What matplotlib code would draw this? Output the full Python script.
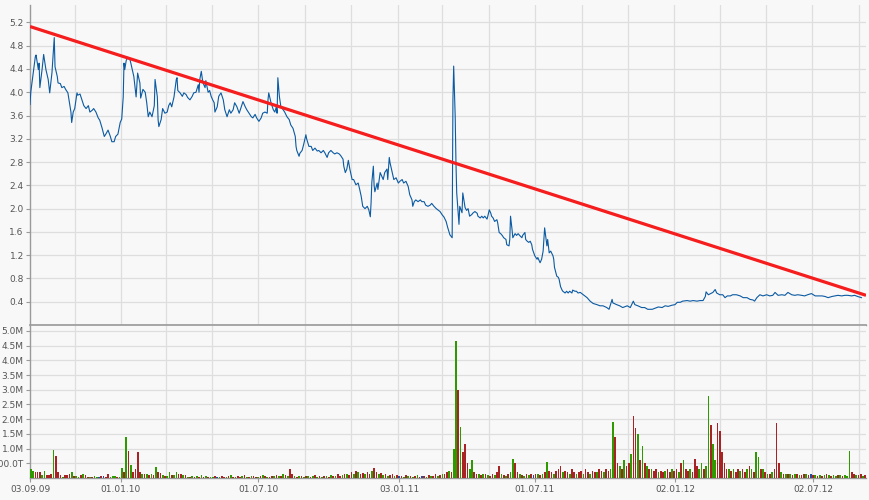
import matplotlib
matplotlib.use("Agg")
import matplotlib.pyplot as plt
import matplotlib.dates as mdates
import matplotlib.ticker as mticker
import numpy as np
import pandas as pd

START = pd.Timestamp("2009-09-03")
END = pd.Timestamp("2012-09-10")

# ---- price series: day offsets from START and closing values ----
price_day = [
    0, 1, 4, 7, 8, 11, 12, 13, 16, 18, 21, 24, 26, 29, 32, 33, 36, 37, 40, 42,
    45, 47, 50, 53, 54, 55, 57, 59, 62, 63, 66, 69, 71, 74, 77, 79, 82, 84, 87, 90,
    92, 95, 98, 100, 103, 106, 108, 111, 113, 116, 119, 121, 123, 124, 125, 127, 129, 132, 135, 137,
    140, 142, 145, 146, 149, 152, 154, 156, 158, 161, 164, 165, 168, 169, 170, 173, 175, 178, 181, 183,
    185, 187, 190, 193, 194, 195, 198, 201, 203, 206, 208, 211, 214, 216, 219, 222, 223, 224, 226, 228,
    231, 232, 235, 237, 239, 241, 243, 244, 247, 249, 252, 255, 257, 260, 263, 265, 268, 270, 273, 276,
    278, 281, 284, 286, 289, 292, 294, 297, 299, 302, 305, 307, 310, 313, 314, 315, 318, 321, 323, 325,
    326, 327, 329, 331, 334, 336, 339, 342, 344, 347, 350, 351, 352, 355, 356, 359, 361, 364, 365, 368,
    371, 373, 376, 379, 381, 384, 387, 389, 392, 394, 397, 400, 402, 405, 408, 410, 413, 414, 416, 418,
    420, 422, 425, 427, 430, 433, 435, 437, 439, 442, 445, 447, 449, 450, 451, 453, 454, 455, 458, 459,
    462, 464, 466, 468, 471, 472, 474, 475, 478, 480, 483, 486, 488, 491, 493, 496, 499, 501, 504, 505,
    507, 509, 512, 515, 517, 520, 522, 525, 528, 530, 533, 536, 538, 541, 544, 546, 549, 551, 554, 557,
    558, 559, 561, 562, 563, 566, 567, 570, 571, 574, 576, 578, 580, 583, 584, 587, 590, 591, 594, 596,
    598, 600, 603, 604, 606, 608, 609, 611, 613, 616, 617, 619, 621, 623, 625, 628, 629, 632, 633, 634,
    636, 637, 640, 642, 644, 646, 649, 650, 653, 654, 656, 658, 660, 662, 663, 666, 669, 670, 673, 675,
    677, 678, 679, 682, 683, 685, 687, 690, 691, 692, 695, 697, 698, 700, 702, 703, 706, 708, 710, 712,
    715, 716, 719, 721, 723, 726, 729, 735, 739, 743, 748, 752, 756, 761, 764, 768, 769, 774, 778, 782,
    788, 792, 796, 798, 802, 807, 811, 815, 821, 825, 829, 834, 838, 842, 847, 851, 854, 858, 861, 867,
    871, 875, 880, 884, 888, 891, 892, 895, 898, 901, 904, 906, 910, 914, 917, 920, 924, 927, 932, 937,
    941, 946, 950, 954, 956, 959, 963, 967, 972, 976, 980, 983, 987, 992, 996, 1000, 1005, 1009, 1013, 1018,
    1022, 1026, 1031, 1036, 1040, 1045, 1049, 1053, 1058, 1062, 1066, 1071, 1075, 1079, 1084, 1088, 1092, 1097,
]
price_value = [
    3.79, 4.00, 4.30, 4.61, 4.64, 4.39, 4.50, 4.08, 4.40, 4.65, 4.39, 4.22, 3.99, 4.34, 4.94, 4.44, 4.27, 4.16, 4.15, 4.08,
    4.10, 4.05, 3.99, 3.75, 3.66, 3.48, 3.66, 3.72, 3.99, 3.95, 3.97, 3.85, 3.77, 3.72, 3.77, 3.66, 3.69, 3.72, 3.66, 3.56,
    3.52, 3.39, 3.24, 3.28, 3.35, 3.24, 3.15, 3.15, 3.24, 3.28, 3.48, 3.54, 3.92, 4.50, 4.39, 4.55, 4.60, 4.56, 4.39, 4.27,
    3.92, 4.33, 4.16, 3.90, 4.05, 4.00, 3.82, 3.58, 3.66, 3.58, 3.77, 4.22, 3.92, 3.53, 3.41, 3.53, 3.72, 3.64, 3.66, 3.77,
    3.82, 3.75, 3.92, 4.22, 4.25, 4.03, 3.99, 3.93, 3.99, 3.96, 3.91, 3.87, 3.93, 3.99, 4.00, 4.13, 4.00, 4.22, 4.36, 4.17,
    4.08, 4.20, 4.00, 4.03, 3.93, 3.87, 3.82, 3.66, 3.75, 3.93, 3.99, 3.87, 3.70, 3.58, 3.70, 3.64, 3.70, 3.82, 3.75, 3.64,
    3.72, 3.84, 3.75, 3.70, 3.64, 3.58, 3.56, 3.62, 3.56, 3.50, 3.56, 3.64, 3.66, 3.64, 3.87, 3.99, 3.82, 3.70, 3.66, 3.75,
    3.64, 4.25, 3.93, 3.75, 3.70, 3.66, 3.58, 3.53, 3.44, 3.38, 3.24, 3.07, 3.00, 2.90, 2.95, 3.00, 3.10, 3.27, 3.20, 3.07,
    3.07, 3.00, 3.04, 2.99, 3.00, 2.96, 3.00, 2.96, 2.88, 2.96, 3.00, 2.96, 2.94, 2.96, 2.94, 2.91, 2.85, 2.73, 2.62, 2.68,
    2.83, 2.68, 2.50, 2.50, 2.41, 2.44, 2.33, 2.21, 2.04, 2.00, 2.04, 1.98, 1.86, 2.10, 2.45, 2.73, 2.40, 2.29, 2.44, 2.33,
    2.62, 2.56, 2.50, 2.62, 2.68, 2.50, 2.88, 2.79, 2.62, 2.50, 2.53, 2.44, 2.47, 2.50, 2.44, 2.47, 2.38, 2.24, 2.15, 2.04,
    2.12, 2.15, 2.12, 2.15, 2.12, 2.12, 2.06, 2.04, 2.06, 2.09, 2.04, 2.00, 1.98, 1.95, 1.89, 1.86, 1.78, 1.68, 1.55, 1.50,
    3.87, 4.45, 3.58, 2.79, 2.27, 1.73, 2.04, 1.93, 2.27, 2.02, 1.97, 2.00, 1.87, 1.90, 1.92, 1.95, 1.92, 1.87, 1.84, 1.87,
    1.84, 1.87, 1.82, 1.87, 1.98, 1.92, 1.87, 1.84, 1.78, 1.81, 1.76, 1.59, 1.57, 1.54, 1.50, 1.47, 1.38, 1.36, 1.47, 1.87,
    1.64, 1.50, 1.57, 1.54, 1.57, 1.54, 1.50, 1.54, 1.59, 1.47, 1.44, 1.42, 1.44, 1.38, 1.30, 1.19, 1.13, 1.16, 1.07, 1.13,
    1.27, 1.47, 1.67, 1.36, 1.47, 1.24, 1.27, 1.19, 1.13, 0.99, 0.84, 0.82, 0.79, 0.66, 0.60, 0.58, 0.55, 0.58, 0.55, 0.58,
    0.55, 0.60, 0.58, 0.58, 0.55, 0.56, 0.53, 0.47, 0.41, 0.37, 0.35, 0.33, 0.33, 0.30, 0.27, 0.44, 0.38, 0.35, 0.33, 0.30,
    0.33, 0.30, 0.41, 0.35, 0.33, 0.30, 0.30, 0.27, 0.27, 0.29, 0.31, 0.30, 0.33, 0.32, 0.34, 0.35, 0.39, 0.39, 0.41, 0.42,
    0.41, 0.42, 0.41, 0.42, 0.42, 0.49, 0.57, 0.52, 0.54, 0.56, 0.61, 0.55, 0.52, 0.52, 0.47, 0.50, 0.50, 0.52, 0.52, 0.50,
    0.47, 0.47, 0.44, 0.43, 0.41, 0.47, 0.52, 0.50, 0.52, 0.50, 0.51, 0.56, 0.51, 0.52, 0.51, 0.56, 0.52, 0.51, 0.52, 0.51,
    0.50, 0.52, 0.54, 0.50, 0.50, 0.50, 0.49, 0.47, 0.49, 0.50, 0.51, 0.50, 0.51, 0.51, 0.50, 0.51, 0.49, 0.47,
]

# ---- trend line ----
trend_day = [0, 1103]
trend_value = [5.13, 0.51]

# ---- volume: one value every 3 days from START (millions), direction g/r/b ----
volume_step_days = 3
volume_m = [
    0.30, 0.25, 0.20, 0.20, 0.20, 0.10, 0.25, 0.10, 0.10, 0.15, 0.95, 0.75, 0.20, 0.10, 0.05, 0.10, 0.10, 0.12, 0.20, 0.08,
    0.08, 0.05, 0.10, 0.15, 0.10, 0.05, 0.05, 0.03, 0.06, 0.05, 0.05, 0.06, 0.08, 0.05, 0.12, 0.02, 0.08, 0.08, 0.05, 0.04,
    0.35, 0.20, 1.38, 0.92, 0.45, 0.20, 0.30, 0.88, 0.20, 0.15, 0.12, 0.15, 0.10, 0.12, 0.10, 0.38, 0.20, 0.18, 0.10, 0.08,
    0.08, 0.20, 0.10, 0.10, 0.20, 0.15, 0.12, 0.10, 0.10, 0.05, 0.05, 0.08, 0.04, 0.06, 0.04, 0.10, 0.05, 0.08, 0.04, 0.05,
    0.03, 0.06, 0.04, 0.05, 0.08, 0.05, 0.04, 0.06, 0.10, 0.05, 0.04, 0.08, 0.05, 0.06, 0.10, 0.05, 0.04, 0.08, 0.06, 0.05,
    0.05, 0.08, 0.10, 0.06, 0.05, 0.04, 0.06, 0.08, 0.10, 0.06, 0.08, 0.12, 0.10, 0.08, 0.30, 0.12, 0.06, 0.05, 0.08, 0.06,
    0.05, 0.08, 0.06, 0.05, 0.08, 0.10, 0.05, 0.06, 0.04, 0.08, 0.06, 0.05, 0.10, 0.08, 0.06, 0.12, 0.08, 0.10, 0.15, 0.12,
    0.10, 0.20, 0.15, 0.25, 0.20, 0.15, 0.18, 0.12, 0.20, 0.15, 0.25, 0.35, 0.20, 0.15, 0.18, 0.10, 0.12, 0.08, 0.10, 0.15,
    0.08, 0.10, 0.06, 0.08, 0.05, 0.10, 0.06, 0.08, 0.05, 0.06, 0.10, 0.05, 0.06, 0.08, 0.05, 0.10, 0.06, 0.08, 0.12, 0.08,
    0.10, 0.12, 0.15, 0.20, 0.25, 0.20, 1.00, 4.67, 2.98, 1.72, 0.87, 1.14, 0.50, 0.30, 0.60, 0.20, 0.15, 0.12, 0.10, 0.15,
    0.12, 0.10, 0.08, 0.15, 0.10, 0.20, 0.40, 0.15, 0.10, 0.08, 0.12, 0.20, 0.64, 0.50, 0.20, 0.12, 0.10, 0.08, 0.15, 0.10,
    0.12, 0.10, 0.15, 0.12, 0.10, 0.15, 0.20, 0.53, 0.25, 0.20, 0.15, 0.25, 0.30, 0.40, 0.20, 0.25, 0.20, 0.15, 0.30, 0.20,
    0.15, 0.20, 0.25, 0.15, 0.30, 0.20, 0.15, 0.25, 0.20, 0.20, 0.30, 0.25, 0.20, 0.30, 0.25, 0.30, 1.90, 1.40, 0.50, 0.40,
    0.30, 0.60, 0.40, 0.50, 0.80, 2.10, 1.70, 1.50, 0.60, 1.10, 0.50, 0.40, 0.30, 0.30, 0.25, 0.30, 0.20, 0.25, 0.20, 0.25,
    0.30, 0.20, 0.30, 0.25, 0.30, 0.20, 0.50, 0.60, 0.30, 0.25, 0.30, 0.20, 0.65, 0.40, 0.30, 0.50, 0.30, 0.40, 2.78, 1.80,
    1.14, 0.60, 1.86, 1.60, 0.90, 0.50, 0.30, 0.30, 0.25, 0.30, 0.20, 0.30, 0.25, 0.30, 0.20, 0.30, 0.40, 0.30, 0.20, 0.90,
    0.70, 0.30, 0.30, 0.20, 0.15, 0.15, 0.20, 0.30, 1.86, 0.50, 0.20, 0.15, 0.15, 0.12, 0.15, 0.10, 0.12, 0.15, 0.10, 0.10,
    0.12, 0.15, 0.10, 0.12, 0.10, 0.10, 0.08, 0.10, 0.08, 0.10, 0.12, 0.10, 0.08, 0.10, 0.08, 0.10, 0.10, 0.08, 0.10, 0.08,
    0.91, 0.20, 0.12, 0.10, 0.10, 0.12, 0.08, 0.10,
]
volume_dir = [
    "g", "g", "r", "r", "r", "g", "g", "r", "r", "r", "g", "r", "r", "r", "g", "r", "r", "r", "g", "r",
    "g", "g", "r", "g", "r", "r", "g", "r", "g", "g", "b", "r", "b", "r", "r", "g", "g", "g", "r", "g",
    "g", "r", "g", "r", "g", "r", "r", "r", "r", "g", "r", "g", "r", "g", "r", "g", "r", "r", "g", "r",
    "g", "g", "r", "g", "g", "r", "r", "g", "r", "g", "r", "g", "r", "g", "r", "g", "r", "g", "r", "g",
    "g", "r", "b", "g", "r", "r", "g", "r", "g", "r", "g", "r", "r", "g", "r", "g", "r", "g", "r", "r",
    "g", "r", "g", "r", "g", "r", "r", "g", "r", "g", "r", "g", "r", "g", "r", "r", "g", "r", "g", "r",
    "g", "r", "g", "r", "g", "r", "g", "r", "g", "r", "g", "r", "g", "r", "g", "r", "r", "g", "r", "g",
    "r", "r", "g", "r", "g", "r", "r", "g", "r", "r", "g", "r", "r", "g", "r", "g", "r", "g", "r", "r",
    "g", "r", "b", "r", "g", "r", "g", "r", "g", "r", "g", "r", "b", "r", "g", "r", "g", "r", "r", "g",
    "r", "g", "r", "r", "g", "r", "g", "g", "r", "g", "r", "r", "r", "g", "g", "r", "r", "g", "r", "g",
    "r", "g", "r", "r", "g", "r", "r", "g", "r", "g", "r", "g", "g", "r", "r", "g", "r", "g", "r", "g",
    "r", "b", "r", "g", "r", "g", "r", "g", "r", "r", "g", "r", "r", "r", "g", "r", "r", "g", "r", "r",
    "g", "r", "r", "g", "r", "r", "g", "r", "r", "g", "r", "r", "g", "r", "r", "g", "g", "r", "r", "g",
    "r", "g", "r", "r", "g", "r", "r", "g", "r", "g", "r", "g", "r", "g", "r", "r", "g", "r", "r", "g",
    "r", "r", "g", "r", "r", "g", "r", "g", "r", "r", "g", "r", "r", "r", "g", "g", "r", "g", "g", "r",
    "g", "g", "r", "r", "r", "r", "r", "g", "r", "g", "r", "r", "g", "r", "r", "g", "r", "g", "r", "g",
    "g", "r", "g", "r", "g", "r", "g", "r", "r", "r", "g", "r", "g", "r", "g", "r", "g", "r", "g", "r",
    "r", "g", "r", "b", "r", "g", "r", "g", "r", "g", "r", "g", "r", "g", "g", "r", "g", "r", "g", "g",
    "g", "r", "r", "g", "r", "r", "g", "r",
]

x_tick_labels = ["03.09.09", "01.01.10", "01.07.10", "03.01.11", "01.07.11", "02.01.12", "02.07.12"]
price_ticks = [0.4, 0.8, 1.2, 1.6, 2.0, 2.4, 2.8, 3.2, 3.6, 4.0, 4.4, 4.8, 5.2]
volume_ticks_m = [0.5, 1.0, 1.5, 2.0, 2.5, 3.0, 3.5, 4.0, 4.5, 5.0]

# ---- styling ----
BG = "#f8f8f8"
GRID = "#dedede"
AXIS = "#9a9a9a"
TXT = "#555555"
PRICE_C = "#0b5aa2"
TREND_C = "#f51d1d"
DIR_C = {"g": "#2e9a00", "r": "#a82323", "b": "#1c4f9c"}

plt.rcParams["font.family"] = ["DejaVu Sans"]
plt.rcParams["font.size"] = 6.5

fig = plt.figure(figsize=(8.7, 5.0), dpi=100, facecolor=BG)
L, R = 30 / 870, 866 / 870
ax = fig.add_axes([L, 1 - 325 / 500, R - L, (325 - 5) / 500])
axv = fig.add_axes([L, 1 - 478 / 500, R - L, (478 - 325) / 500])

p_dates = [START + pd.Timedelta(days=d) for d in price_day]
t_dates = [START + pd.Timedelta(days=d) for d in trend_day]
v_dates = [START + pd.Timedelta(days=volume_step_days * i) for i in range(len(volume_m))]
lab_dates = [pd.to_datetime(s, format="%d.%m.%y") for s in x_tick_labels]

for a in (ax, axv):
    a.set_facecolor(BG)
    for s in ("top", "right"):
        a.spines[s].set_visible(False)
    a.spines["left"].set_color(AXIS)
    a.spines["bottom"].set_color(AXIS)
    a.spines["left"].set_linewidth(1.0)
    a.spines["bottom"].set_linewidth(1.0)
    # bi-monthly vertical grid lines via minor ticks
    a.xaxis.set_minor_locator(mdates.MonthLocator(bymonth=[1, 3, 5, 7, 9, 11]))
    a.grid(True, axis="x", which="minor", color=GRID, linewidth=0.9)
    a.grid(True, axis="y", which="major", color=GRID, linewidth=0.9)
    a.grid(False, axis="x", which="major")
    a.tick_params(axis="x", which="minor", length=0)
    a.set_axisbelow(True)
    a.tick_params(axis="y", colors=AXIS, labelcolor=TXT, length=3, width=0.8, pad=1.5, labelsize=6.5)
    a.set_xlim(START, END)

ax.plot(p_dates, price_value, color=PRICE_C, linewidth=0.8, zorder=3)
ax.plot(t_dates, trend_value, color=TREND_C, linewidth=2.3, zorder=4, solid_capstyle="butt")
ax.set_ylim(0, 5.5)
ax.set_yticks(price_ticks)
ax.yaxis.set_major_formatter(mticker.FormatStrFormatter("%.1f"))
ax.set_xticks([])
ax.tick_params(axis="x", which="both", length=0, labelbottom=False)

axv.bar(v_dates, volume_m, width=2.2, align="edge",
        color=[DIR_C[c] for c in volume_dir], linewidth=0, zorder=3)
axv.set_ylim(0, 5.2)
axv.set_yticks(volume_ticks_m)
axv.yaxis.set_major_formatter(mticker.FuncFormatter(
    lambda v, _: f"{v:.1f}M" if v >= 1 else f"{v * 1000:.1f}T"))
axv.set_xticks(lab_dates)
axv.set_xticklabels(x_tick_labels)
axv.tick_params(axis="x", which="major", length=3, width=0.8, colors=AXIS,
                labelcolor=TXT, labelsize=6.5, pad=2)
axv.tick_params(axis="x", which="minor", length=0)
# top border of the volume panel
axv.axhline(5.2, color=AXIS, linewidth=1.2, zorder=5, clip_on=False)

fig.savefig("out.png", dpi=100, facecolor=BG)
